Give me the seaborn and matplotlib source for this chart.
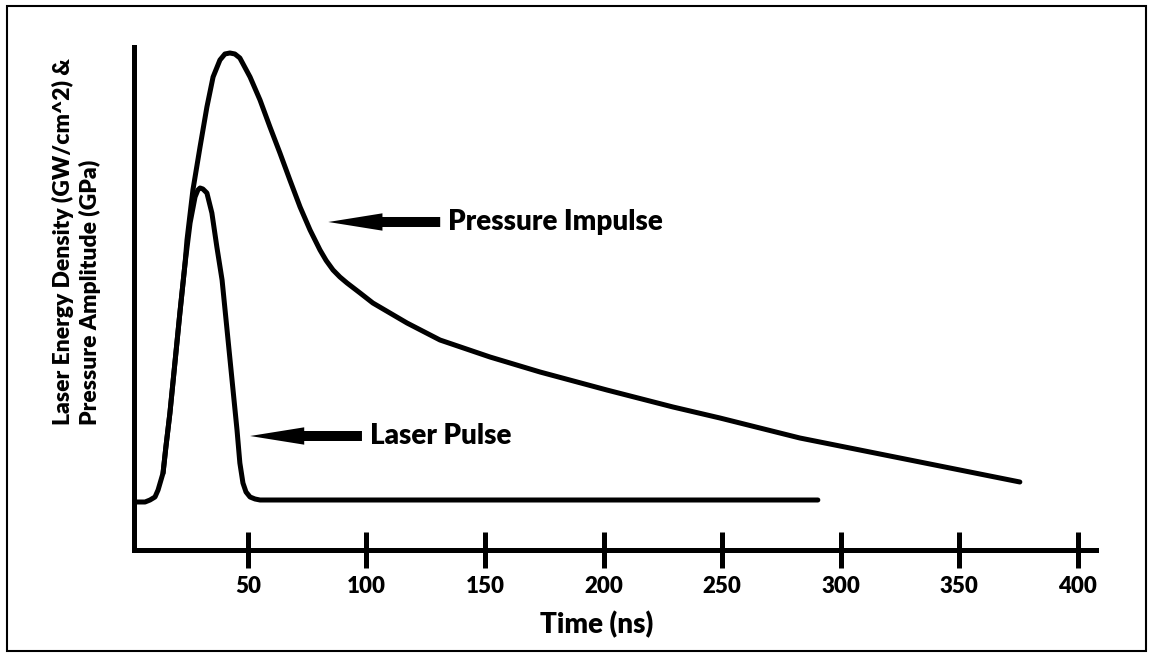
import matplotlib
matplotlib.use("Agg")
import matplotlib.pyplot as plt
import seaborn as sns
from matplotlib.patches import Rectangle

# =====================================================
# DATA
# =====================================================
laser_t = [1.9, 6.6, 8.7, 10.8, 12.1, 14.2, 15.4, 17.1, 19.2, 21.3, 23.5,
           25.6, 27.7, 28.9, 29.8, 31.0, 32.7, 34.8, 36.9, 39.1, 41.2, 43.3,
           45.4, 46.6, 47.9, 49.2, 50.9, 53.0, 55.1, 290.4]
laser_v = [9.6, 9.6, 10.0, 10.6, 12.0, 15.4, 20.6, 27.4, 37.4, 47.4, 57.4,
           65.4, 70.6, 72.0, 72.4, 72.2, 71.4, 67.4, 60.6, 54.0, 44.0, 34.0,
           24.0, 17.4, 13.4, 11.6, 10.6, 10.2, 10.0, 10.0]

pressure_t = [14.2, 15.4, 17.1, 19.2, 21.3, 23.5, 24.3, 26.8, 29.8, 32.7,
              35.3, 38.2, 40.3, 42.4, 44.5, 46.6, 50.9, 55.1, 59.3, 63.5,
              67.7, 72.0, 76.2, 80.4, 83.0, 85.9, 88.8, 91.8, 97.3, 102.7,
              117.1, 131.0, 152.1, 173.2, 201.4, 229.3, 249.1, 282.8, 325.0,
              375.6]
pressure_v = [15.4, 20.6, 27.4, 37.4, 47.4, 57.4, 62.0, 72.0, 80.6, 88.6,
              94.6, 98.0, 99.2, 99.4, 99.2, 98.4, 94.6, 90.0, 84.6, 79.4,
              74.0, 68.6, 64.0, 60.0, 57.9, 56.0, 54.6, 53.4, 51.4, 49.4,
              45.4, 42.0, 38.6, 35.6, 32.0, 28.6, 26.4, 22.4, 18.4, 13.6]

x_ticks = [50, 100, 150, 200, 250, 300, 350, 400]

FONT = ["Lato", "DejaVu Sans"]

# =====================================================
# FIGURE
# =====================================================
sns.set_theme(style="white")
plt.rcParams["font.family"] = FONT
plt.rcParams["font.weight"] = "bold"
plt.rcParams["text.color"] = "black"
plt.rcParams["xtick.color"] = "black"

fig = plt.figure(figsize=(11.54, 6.59), dpi=100)
ax = fig.add_axes([0.1161, 0.1654, 0.8336, 0.7633])

line_kw = dict(color="black", linewidth=3.6, estimator=None, sort=False,
               solid_capstyle="round", solid_joinstyle="round")
sns.lineplot(x=laser_t, y=laser_v, ax=ax, **line_kw)
sns.lineplot(x=pressure_t, y=pressure_v, ax=ax, **line_kw)

ax.set_xlim(1.94, 407.7)
ax.set_ylim(0, 100.6)

for side in ["top", "right"]:
    ax.spines[side].set_visible(False)
for side in ["left", "bottom"]:
    ax.spines[side].set_color("black")
    ax.spines[side].set_linewidth(3.6)

ax.set_xticks(x_ticks)
ax.set_xticklabels([str(t) for t in x_ticks], fontsize=16, fontweight="heavy",
                   color="black")
ax.set_yticks([])
ax.tick_params(axis="x", direction="inout", length=26, width=3.6,
               color="black", pad=6, bottom=True)
for t in ax.xaxis.get_major_ticks():
    t.tick1line.set_solid_capstyle("round")

ax.set_xlabel("")
ax.set_ylabel("")

# arrows + labels
arrow_kw = dict(arrowstyle="simple,head_length=3.9,head_width=1.25,tail_width=0.72",
                fc="black", ec="none", mutation_scale=10, shrinkA=0, shrinkB=0)
ax.annotate("", xy=(83.9, 65.6), xytext=(131.1, 65.6), arrowprops=arrow_kw)
ax.text(134.4, 65.6, "Pressure Impulse", fontsize=20, fontweight="heavy",
        ha="left", va="center", color="black")
ax.annotate("", xy=(50.9, 22.8), xytext=(98.1, 22.8), arrowprops=arrow_kw)
ax.text(101.5, 22.8, "Laser Pulse", fontsize=20, fontweight="heavy",
        ha="left", va="center", color="black")

fig.text(0.517, 1 - 625 / 659, "Time (ns)", fontsize=20, fontweight="heavy",
         ha="center", va="center", color="black")
fig.text(0.066, 1 - 425 / 659,
         "Laser Energy Density (GW/cm^2) &\nPressure Amplitude (GPa)",
         fontsize=16.5, fontweight="heavy", rotation=90, ha="center",
         va="bottom", multialignment="left", linespacing=1.25, color="black")

# figure border
fig.patches.append(Rectangle((7 / 1154, 1 - 651 / 659), 1139 / 1154, 645 / 659,
                             transform=fig.transFigure, fill=False,
                             edgecolor="black", linewidth=1.5))

fig.savefig("out.png", dpi=100)
